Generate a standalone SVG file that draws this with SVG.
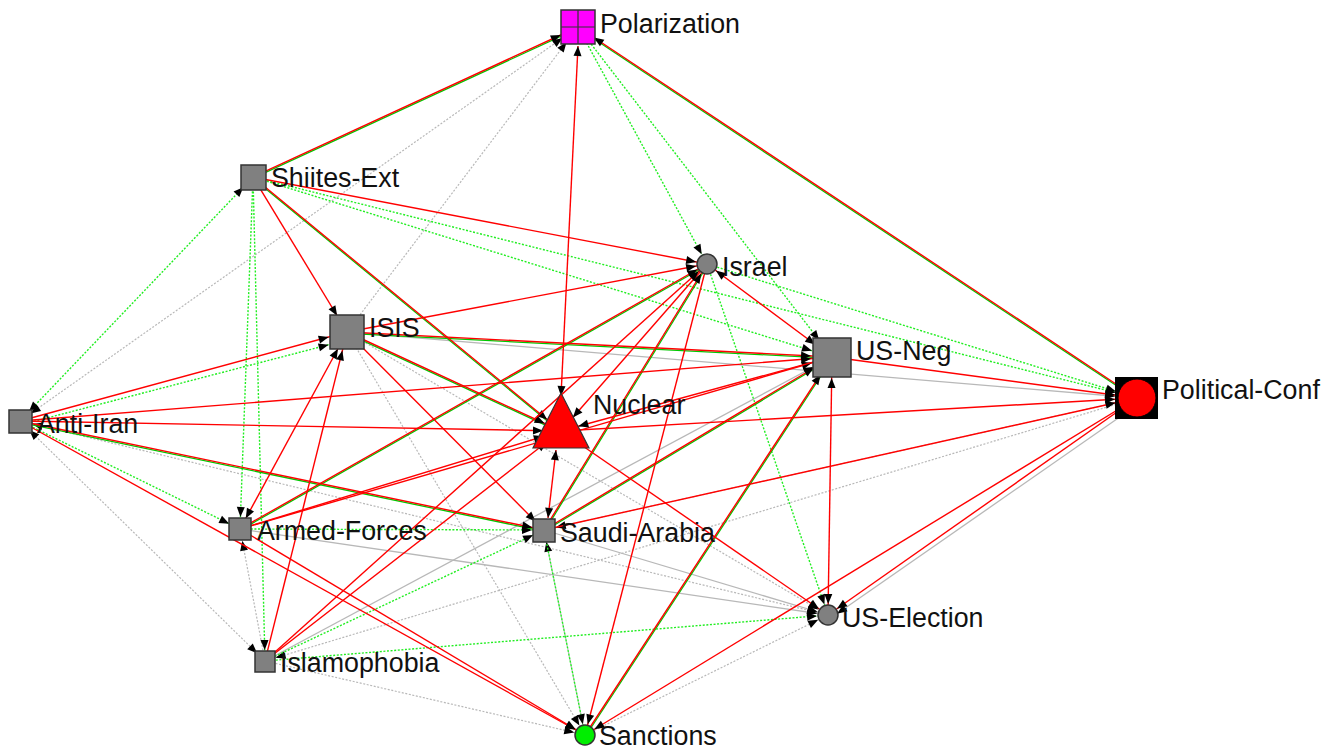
<svg xmlns="http://www.w3.org/2000/svg" width="1330" height="749" viewBox="0 0 1330 749">
<style>
.r{stroke:#ff0000;stroke-width:1.4;fill:none}
.gr{stroke:#00c800;stroke-width:1.3;fill:none}
.g{stroke:#22ee22;stroke-width:1.4;stroke-dasharray:2 1.6;fill:none}
.y{stroke:#b8b8b8;stroke-width:1.2;stroke-dasharray:2 1.6;fill:none}
.s{stroke:#b8b8b8;stroke-width:1.3;fill:none}
.n{fill:#808080;stroke:#333;stroke-width:1.5}
text{font-family:"Liberation Sans",Arial,sans-serif;font-size:26.8px;fill:#111}
</style>
<defs>
<marker id="a0" viewBox="0 0 10 8" refX="10" refY="4" markerWidth="10" markerHeight="8" markerUnits="userSpaceOnUse" orient="auto-start-reverse" overflow="visible"><path d="M0,0L10,4L0,8z" fill="#000"/></marker>
<marker id="a11" viewBox="0 0 10 8" refX="21" refY="4" markerWidth="10" markerHeight="8" markerUnits="userSpaceOnUse" orient="auto-start-reverse" overflow="visible"><path d="M0,0L10,4L0,8z" fill="#000"/></marker>
<marker id="a12" viewBox="0 0 10 8" refX="22" refY="4" markerWidth="10" markerHeight="8" markerUnits="userSpaceOnUse" orient="auto-start-reverse" overflow="visible"><path d="M0,0L10,4L0,8z" fill="#000"/></marker>
<marker id="a13" viewBox="0 0 10 8" refX="23" refY="4" markerWidth="10" markerHeight="8" markerUnits="userSpaceOnUse" orient="auto-start-reverse" overflow="visible"><path d="M0,0L10,4L0,8z" fill="#000"/></marker>
<marker id="a14" viewBox="0 0 10 8" refX="24" refY="4" markerWidth="10" markerHeight="8" markerUnits="userSpaceOnUse" orient="auto-start-reverse" overflow="visible"><path d="M0,0L10,4L0,8z" fill="#000"/></marker>
<marker id="a18" viewBox="0 0 10 8" refX="28" refY="4" markerWidth="10" markerHeight="8" markerUnits="userSpaceOnUse" orient="auto-start-reverse" overflow="visible"><path d="M0,0L10,4L0,8z" fill="#000"/></marker>
<marker id="a19" viewBox="0 0 10 8" refX="29" refY="4" markerWidth="10" markerHeight="8" markerUnits="userSpaceOnUse" orient="auto-start-reverse" overflow="visible"><path d="M0,0L10,4L0,8z" fill="#000"/></marker>
<marker id="a21" viewBox="0 0 10 8" refX="31" refY="4" markerWidth="10" markerHeight="8" markerUnits="userSpaceOnUse" orient="auto-start-reverse" overflow="visible"><path d="M0,0L10,4L0,8z" fill="#000"/></marker>
<marker id="a22" viewBox="0 0 10 8" refX="32" refY="4" markerWidth="10" markerHeight="8" markerUnits="userSpaceOnUse" orient="auto-start-reverse" overflow="visible"><path d="M0,0L10,4L0,8z" fill="#000"/></marker>
</defs>
<rect width="1330" height="749" fill="#fff"/>
<g id="connectors">
<!-- gray dotted -->
<line class="y" x1="20" y1="421" x2="578" y2="27" marker-start="url(#a13)" marker-end="url(#a19)"/>
<line class="y" x1="347" y1="332" x2="578" y2="27" marker-end="url(#a19)"/>
<line class="y" x1="347" y1="332" x2="828" y2="615" marker-end="url(#a11)"/>
<line class="y" x1="347" y1="332" x2="585" y2="735" marker-end="url(#a11)"/>
<line class="y" x1="20" y1="421" x2="265" y2="661" marker-start="url(#a13)" marker-end="url(#a11)"/>
<line class="y" x1="20" y1="421" x2="828" y2="615" marker-start="url(#a13)" marker-end="url(#a11)"/>
<line class="y" x1="265" y1="661" x2="240" y2="529" marker-end="url(#a12)"/>
<line class="y" x1="585" y1="735" x2="544" y2="530" marker-end="url(#a12)"/>
<line class="y" x1="1137" y1="398" x2="544" y2="530" marker-end="url(#a12)"/>
<line class="y" x1="1137" y1="398" x2="265" y2="661" marker-end="url(#a11)"/>
<line class="y" x1="265" y1="661" x2="585" y2="735" marker-end="url(#a11)"/>
<line class="y" x1="585" y1="735" x2="828" y2="615" marker-end="url(#a11)"/>
<!-- gray solid -->
<line class="s" x1="347" y1="332" x2="1137" y2="398" marker-end="url(#a22)"/>
<line class="s" x1="240" y1="529" x2="828" y2="615" marker-end="url(#a11)"/>
<line class="s" x1="544" y1="530" x2="828" y2="615" marker-end="url(#a11)"/>
<line class="s" x1="1137" y1="405" x2="828" y2="620" marker-end="url(#a11)"/>
<line class="s" x1="265" y1="661" x2="832" y2="357" marker-end="url(#a21)"/>
<!-- green dotted -->
<line class="g" x1="578" y1="27" x2="707" y2="264" marker-end="url(#a11)"/>
<line class="g" x1="578" y1="27" x2="832" y2="357" marker-end="url(#a21)"/>
<line class="g" x1="253" y1="177" x2="832" y2="357" marker-end="url(#a21)"/>
<line class="g" x1="253" y1="177" x2="1137" y2="398" marker-end="url(#a22)"/>
<line class="g" x1="253" y1="177" x2="240" y2="529" marker-end="url(#a12)"/>
<line class="g" x1="253" y1="177" x2="265" y2="661" marker-end="url(#a11)"/>
<line class="g" x1="20" y1="421" x2="253" y2="177" marker-start="url(#a13)" marker-end="url(#a14)"/>
<line class="g" x1="20" y1="425" x2="347" y2="340" marker-end="url(#a19)"/>
<line class="g" x1="20" y1="421" x2="240" y2="529" marker-end="url(#a12)"/>
<line class="g" x1="240" y1="529" x2="544" y2="530" marker-end="url(#a12)"/>
<line class="g" x1="544" y1="530" x2="585" y2="735" marker-end="url(#a11)"/>
<line class="g" x1="265" y1="661" x2="544" y2="530" marker-end="url(#a12)"/>
<line class="g" x1="707" y1="264" x2="828" y2="615" marker-end="url(#a11)"/>
<line class="g" x1="707" y1="264" x2="1137" y2="398" marker-end="url(#a22)"/>
<line class="g" x1="265" y1="661" x2="828" y2="615" marker-end="url(#a11)"/>
<!-- olive (green + red pairs) -->
<g class="gr" transform="translate(0,1.3)">
<line x1="253" y1="177" x2="578" y2="27"/>
<line x1="1137" y1="398" x2="578" y2="27"/>
<line x1="253" y1="177" x2="561" y2="431"/>
<line x1="347" y1="332" x2="832" y2="357"/>
<line x1="347" y1="332" x2="561" y2="431"/>
<line x1="20" y1="421" x2="544" y2="530"/>
<line x1="240" y1="529" x2="707" y2="264"/>
<line x1="544" y1="530" x2="832" y2="357"/>
</g>
<g class="gr" transform="translate(1.3,0)">
<line x1="544" y1="530" x2="707" y2="264"/>
<line x1="585" y1="735" x2="832" y2="357"/>
</g>
<line class="r" x1="253" y1="177" x2="578" y2="27" marker-end="url(#a19)"/>
<line class="r" x1="1137" y1="398" x2="578" y2="27" marker-end="url(#a19)"/>
<line class="r" x1="253" y1="177" x2="561" y2="431" marker-end="url(#a18)"/>
<line class="r" x1="347" y1="332" x2="832" y2="357" marker-end="url(#a21)"/>
<line class="r" x1="347" y1="332" x2="561" y2="431" marker-end="url(#a18)"/>
<line class="r" x1="20" y1="421" x2="544" y2="530" marker-end="url(#a12)"/>
<line class="r" x1="240" y1="529" x2="707" y2="264" marker-end="url(#a11)"/>
<line class="r" x1="544" y1="530" x2="832" y2="357" marker-end="url(#a21)"/>
<line class="r" x1="544" y1="530" x2="707" y2="264" marker-end="url(#a11)"/>
<line class="r" x1="585" y1="735" x2="832" y2="357" marker-end="url(#a21)"/>
<!-- red -->
<line class="r" x1="561" y1="396" x2="578" y2="46" marker-start="url(#a0)" marker-end="url(#a0)"/>
<line class="r" x1="253" y1="177" x2="347" y2="332" marker-end="url(#a19)"/>
<line class="r" x1="253" y1="177" x2="707" y2="264" marker-end="url(#a11)"/>
<line class="r" x1="347" y1="332" x2="707" y2="264" marker-end="url(#a11)"/>
<line class="r" x1="347" y1="332" x2="544" y2="530" marker-end="url(#a12)"/>
<line class="r" x1="240" y1="529" x2="347" y2="332" marker-start="url(#a12)" marker-end="url(#a19)"/>
<line class="r" x1="265" y1="661" x2="347" y2="332" marker-end="url(#a19)"/>
<line class="r" x1="20" y1="421" x2="347" y2="332" marker-end="url(#a19)"/>
<line class="r" x1="20" y1="421" x2="561" y2="431" marker-end="url(#a18)"/>
<line class="r" x1="20" y1="421" x2="832" y2="357" marker-end="url(#a21)"/>
<line class="r" x1="20" y1="421" x2="585" y2="735" marker-end="url(#a11)"/>
<line class="r" x1="240" y1="529" x2="561" y2="431" marker-end="url(#a18)"/>
<line class="r" x1="240" y1="529" x2="832" y2="357" marker-end="url(#a21)"/>
<line class="r" x1="240" y1="529" x2="585" y2="735" marker-end="url(#a11)"/>
<line class="r" x1="548" y1="518" x2="556" y2="450" marker-start="url(#a0)" marker-end="url(#a0)"/>
<line class="r" x1="544" y1="530" x2="1137" y2="398" marker-end="url(#a22)"/>
<line class="r" x1="561" y1="431" x2="1137" y2="398" marker-end="url(#a22)"/>
<line class="r" x1="832" y1="357" x2="561" y2="431" marker-end="url(#a18)"/>
<line class="r" x1="707" y1="264" x2="561" y2="431" marker-end="url(#a18)"/>
<line class="r" x1="561" y1="431" x2="828" y2="615" marker-end="url(#a11)"/>
<line class="r" x1="265" y1="661" x2="561" y2="431" marker-end="url(#a18)"/>
<line class="r" x1="265" y1="661" x2="707" y2="264" marker-end="url(#a11)"/>
<line class="r" x1="832" y1="357" x2="828" y2="615" marker-start="url(#a21)" marker-end="url(#a11)"/>
<line class="r" x1="707" y1="264" x2="832" y2="357" marker-start="url(#a11)" marker-end="url(#a21)"/>
<line class="r" x1="832" y1="357" x2="1137" y2="398" marker-end="url(#a22)"/>
<line class="r" x1="707" y1="264" x2="585" y2="735" marker-end="url(#a11)"/>
<line class="r" x1="1137" y1="398" x2="828" y2="615" marker-end="url(#a11)"/>
<line class="r" x1="1137" y1="398" x2="585" y2="735" marker-end="url(#a11)"/>
</g>
<g id="node-polarization">
<rect x="561" y="10" width="34" height="34" fill="#ff00ff" stroke="#333" stroke-width="1.5"/>
<path d="M578,10V44M561,27H595" stroke="#333" stroke-width="1.2"/>
<text x="600" y="33">Polarization</text>
</g>
<g id="node-shiites-ext">
<rect class="n" x="241" y="165" width="25" height="25"/>
<text x="271" y="187">Shiites-Ext</text>
</g>
<g id="node-isis">
<rect class="n" x="330" y="315" width="34" height="34"/>
<text x="369" y="337">ISIS</text>
</g>
<g id="node-israel">
<circle class="n" cx="707" cy="264" r="10"/>
<text x="722" y="276">Israel</text>
</g>
<g id="node-nuclear">
<polygon points="561,393 533,448 589,448" fill="#ff0000" stroke="#333" stroke-width="1.2"/>
<text x="593" y="414">Nuclear</text>
</g>
<g id="node-us-neg">
<rect class="n" x="813" y="338" width="38" height="39"/>
<text x="856" y="360">US-Neg</text>
</g>
<g id="node-political-conf">
<rect x="1115" y="377" width="43" height="42" fill="#000"/>
<circle cx="1137" cy="398" r="19" fill="#ff0000" stroke="#000" stroke-width="1"/>
<text x="1162" y="399">Political-Conf</text>
</g>
<g id="node-anti-iran">
<rect class="n" x="9" y="410" width="23" height="23"/>
<text x="37" y="433">Anti-Iran</text>
</g>
<g id="node-armed-forces">
<rect class="n" x="229" y="518" width="22" height="22"/>
<text x="257" y="540">Armed-Forces</text>
</g>
<g id="node-saudi-arabia">
<rect class="n" x="533" y="519" width="22" height="23"/>
<text x="560" y="542">Saudi-Arabia</text>
</g>
<g id="node-us-election">
<circle class="n" cx="828" cy="615" r="10"/>
<text x="842" y="627">US-Election</text>
</g>
<g id="node-islamophobia">
<rect class="n" x="255" y="651" width="20" height="21"/>
<text x="280" y="672">Islamophobia</text>
</g>
<g id="node-sanctions">
<circle cx="585" cy="735" r="10" fill="#00ee00" stroke="#333" stroke-width="1.5"/>
<text x="599" y="745">Sanctions</text>
</g>
</svg>
